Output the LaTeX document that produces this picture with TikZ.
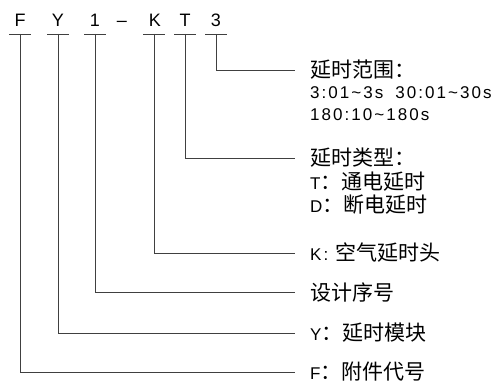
\documentclass[tikz,border=0pt]{standalone}
\usepackage{fontspec}
\setmainfont{Liberation Sans}
\newfontfamily\lat[LetterSpace=12]{Liberation Sans}
\newfontfamily\cjk{Noto Sans CJK SC}
\newcommand{\zh}[1]{{\cjk\fontsize{21}{21}\selectfont #1}}
\begin{document}
\begin{tikzpicture}[x=1pt,y=-1pt,
  code/.style={font=\fontsize{18}{18}\selectfont, inner sep=0pt, text height=13pt, text depth=0pt},
  lab/.style={anchor=west, inner xsep=15pt, inner ysep=0pt, font=\lat\fontsize{17}{17}\selectfont},
  conn/.style={draw=black!75, line width=0.9pt}]
\useasboundingbox (0,0) rectangle (500,385);
% code letters
\node[code] (cF) at (20,20) {F};
\node[code] (cY) at (58,20) {Y};
\node[code] (c1) at (95,20) {1};
\node[code] (cd) at (122,20) {--};
\node[code] (cK) at (155,20) {K};
\node[code] (cT) at (185,20) {T};
\node[code] (c3) at (216,20) {3};
% underline points
\coordinate (uF) at (20,34);
\coordinate (uY) at (58,34);
\coordinate (u1) at (95,34);
\coordinate (uK) at (154,34);
\coordinate (uT) at (185,34);
\coordinate (u3) at (216,34);
\foreach \u in {uF,uY,u1,uK,uT,u3}
  \draw[conn] ([xshift=-11pt]\u) -- ([xshift=11pt]\u);
% labels
\node[lab] (t3a) at (295,70) {\zh{延时范围：}};
\node[lab] (t3b) at (295,93) {3:01\textasciitilde 3s\hspace{12pt}30:01\textasciitilde 30s};
\node[lab] (t3c) at (295,115) {180:10\textasciitilde 180s};
\node[lab] (tTa) at (295,158) {\zh{延时类型：}};
\node[lab] (tTb) at (295,182) {T\zh{：通电延时}};
\node[lab] (tTc) at (295,205) {D\zh{：断电延时}};
\node[lab] (tK) at (295,253) {K: \zh{空气延时头}};
\node[lab] (t1) at (295,292) {\zh{设计序号}};
\node[lab] (tY) at (295,333) {Y\zh{：延时模块}};
\node[lab] (tF) at (295,372) {F\zh{：附件代号}};
% connectors
\draw[conn] (u3) |- (t3a);
\draw[conn] (uT) |- (tTa);
\draw[conn] (uK) |- (tK);
\draw[conn] (u1) |- (t1);
\draw[conn] (uY) |- (tY);
\draw[conn] (uF) |- (tF);
\end{tikzpicture}
\end{document}
